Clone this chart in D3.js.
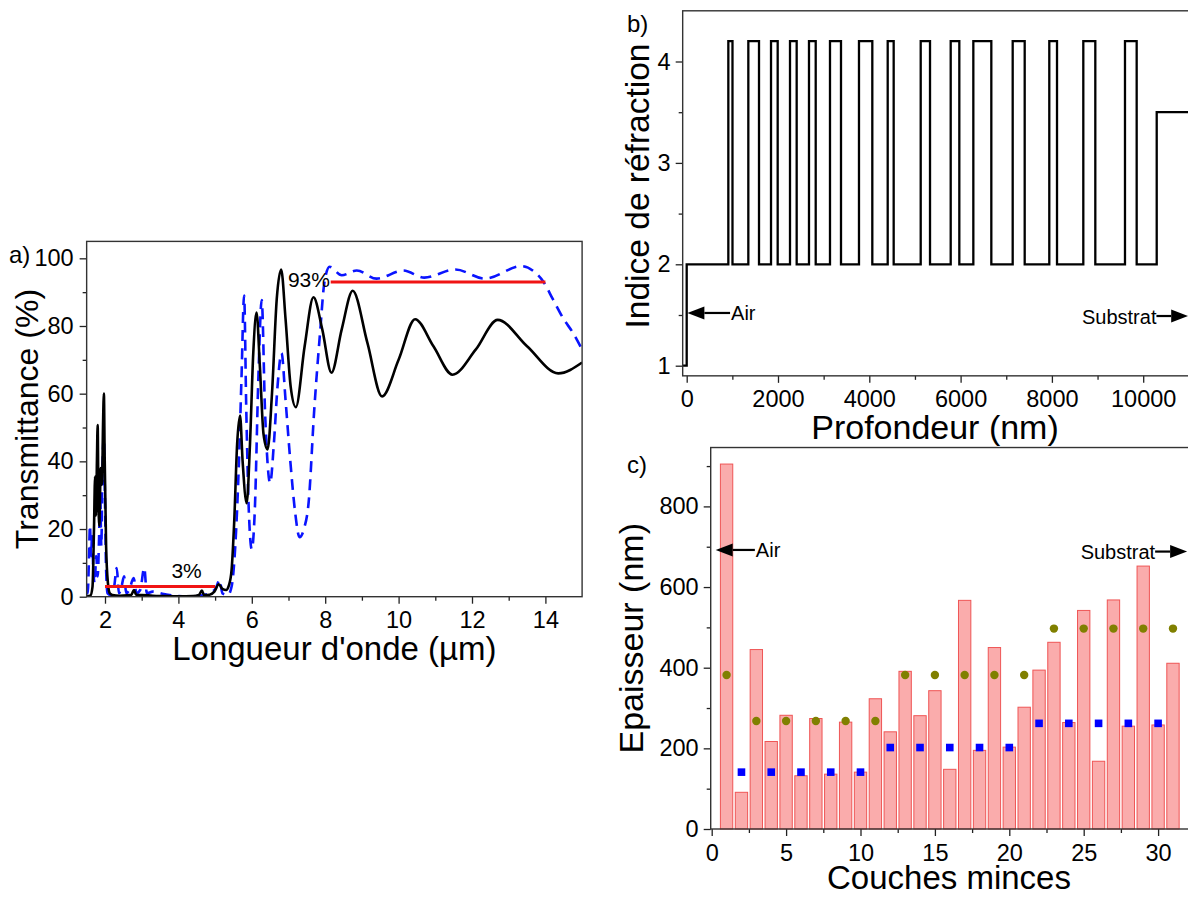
<!DOCTYPE html>
<html><head><meta charset="utf-8">
<script src="https://cdn.jsdelivr.net/npm/d3@7"></script>
<style>
body{margin:0;background:#fff;}
svg{display:block;font-family:"Liberation Sans",Arial,Helvetica,sans-serif;}
</style></head><body>
<svg id="chart" width="1188" height="897"></svg>
<script>
// ---------- Panel a data: transmittance spectra ----------
const blackLambda = [1.50,1.60,1.66,1.70,1.73,1.755,1.78,1.80,1.82,1.845,1.865,1.88,1.90,1.92,1.945,1.97,1.99,2.03,2.08,2.13,2.2,2.4,2.6,2.72,2.79,2.85,3.0,3.3,3.6,4.0,4.4,4.56,4.64,4.7,4.85,4.98,5.1,5.2,5.3,5.38,5.45,5.52,5.6,5.68,5.75,5.86,5.95,6.04,6.13,6.22,6.32,6.43,6.55,6.68,6.8,6.92,7.06,7.2,7.44,7.68,7.92,8.17,8.45,8.75,9.15,9.55,10.0,10.45,10.95,11.47,12.1,12.7,13.5,14.35,15.0];
const blackT      = [0.1,0.3,3,20,35.5,24,40,50.7,30,21,30,38,33,34,50,60,42,15,4,1,0.5,0.3,0.4,0.6,2,0.5,0.5,0.3,0.2,0.1,0.2,0.5,1.8,0.5,0.6,1.5,3.7,2.3,2.0,3.5,8,22,45,53.5,40,27.6,45,72,84,68,48,43.5,60,88,96.7,82,62,56,74,88.5,79,66.2,79,90.4,75,59.2,70,82,74,65.6,73,81.8,74,66,69.2];
const blueLambda  = [1.50,1.53,1.56,1.59,1.62,1.65,1.68,1.72,1.76,1.80,1.84,1.87,1.90,1.93,1.97,2.00,2.03,2.07,2.15,2.25,2.32,2.38,2.45,2.52,2.58,2.66,2.78,2.86,2.96,3.07,3.14,3.3,3.6,3.9,4.2,4.5,4.8,5.02,5.12,5.2,5.35,5.45,5.55,5.65,5.72,5.79,5.85,5.92,6.0,6.08,6.18,6.27,6.36,6.5,6.6,6.7,6.81,6.92,7.05,7.18,7.3,7.42,7.55,7.7,7.86,7.98,8.12,8.45,8.86,9.4,10.13,10.7,11.55,12.35,13.35,13.7,13.95,14.2,14.5,14.75,15.0];
const blueT       = [1,1,10,21,12,19,8,4,12,6,18,30,15,38,47,28,8,1,0.5,3,8.5,1,3,6,1,2,5.5,1,2,8.5,1,1.5,0.8,0.3,0.1,0.2,0.8,2.5,5,1,0.5,3,15,40,65,89,55,25,14,25,65,87.7,55,33.6,45,62,72,58,40,25,17.6,20,28,55,78,93,97.5,95,96.4,94,96.4,94.3,96.7,94,97.7,96,93,88,82,78,73];
const refStart  = [2, 8.15];
const refEnd    = [5, 14];
const refValue  = [3, 93];
const refLabels = ["3%", "93%"];
const refLabelLambda = [3.81, 8.13];
const refLabelT      = [5.5, 91.6];
const refLabelAnchor = ["start", "end"];
const aTicksX = [2,4,6,8,10,12,14], aMinorX = [3,5,7,9,11,13];
const aTicksY = [0,20,40,60,80,100], aMinorY = [10,30,50,70,90];

// ---------- Panel b data: refractive index profile ----------
const layerEdges = [0,912,1003,1350,1584,1847,1993,2263,2409,2679,2826,3139,3380,3774,4066,4403,4534,5126,5330,5783,5972,6279,6673,7141,7404,7943,8112,8688,8951,9601,9857,10296];
const nLow = 2, nHigh = 4.2, nAir = 1, nSub = 3.5;
const depthStart = -88, depthEnd = 11000;
const bTicksX = [0,2000,4000,6000,8000,10000], bMinorX = [1000,3000,5000,7000,9000,11000];
const bTicksY = [1,2,3,4], bMinorY = [1.5,2.5,3.5];

// ---------- Panel c data: layer thicknesses ----------
const layerNo   = d3.range(1, 32);
const thickness = [905,91,445,217,282,132,274,136,265,141,323,241,391,281,343,148,567,195,450,203,302,394,463,264,542,168,568,255,652,258,411];
const lowLayers   = [1,3,5,7,9,11,13,15,17,19,21,23,25,27,29,31];
const lowTarget   = [382,268,268,268,268,268,382,382,382,382,382,497,497,497,497,497];
const highLayers  = [2,4,6,8,10,12,14,16,18,20,22,24,26,28,30];
const highTarget  = [141,141,141,141,141,202,202,202,202,202,262,262,262,262,262];
const cTicksX = [0,5,10,15,20,25,30], cMinorX = [2.5,7.5,12.5,17.5,22.5,27.5];
const cTicksY = [0,200,400,600,800], cMinorY = [100,300,500,700,900];

const svg = d3.select("#chart");
const FS_TICK = 23.5;

function styleAxis(g){
  g.select(".domain").remove();
  g.attr("font-family", null).attr("font-size", FS_TICK).attr("color", "#000");
  g.selectAll(".tick line").attr("stroke-width", 1.3).attr("stroke", "#222");
}
function arrow(g, xTail, xTip, yy){
  const dir = xTip > xTail ? 1 : -1;
  const hl = 17, hh = 6.5;
  g.append("line").attr("x1", xTail).attr("x2", xTip - dir*hl).attr("y1", yy).attr("y2", yy)
    .attr("stroke", "#000").attr("stroke-width", 2.2);
  g.append("path").attr("d", `M${xTip},${yy} L${xTip - dir*hl},${yy-hh} L${xTip - dir*hl},${yy+hh} Z`).attr("fill", "#000");
}

// =================== Panel a ===================
{
  const x = d3.scaleLinear().domain([1.5, 15]).range([86.65, 582.1]);
  const y = d3.scaleLinear().domain([0, 105]).range([596.7, 241.4]);
  const g = svg.append("g");
  g.append("clipPath").attr("id", "clipA").append("rect")
    .attr("x", x(1.5)).attr("y", y(105)).attr("width", x(15)-x(1.5)).attr("height", y(0)-y(105));

  const xa = g.append("g").attr("transform", `translate(0,${y(0)})`)
    .call(d3.axisBottom(x).tickValues(aTicksX).tickSize(7).tickPadding(8).tickFormat(d3.format("d")));
  styleAxis(xa);
  const xm = g.append("g").attr("transform", `translate(0,${y(0)})`)
    .call(d3.axisBottom(x).tickValues(aMinorX).tickSize(4).tickFormat(""));
  styleAxis(xm);
  const ya = g.append("g").attr("transform", `translate(${x(1.5)},0)`)
    .call(d3.axisLeft(y).tickValues(aTicksY).tickSize(7).tickPadding(6));
  styleAxis(ya);
  const ym = g.append("g").attr("transform", `translate(${x(1.5)},0)`)
    .call(d3.axisLeft(y).tickValues(aMinorY).tickSize(4).tickFormat(""));
  styleAxis(ym);

  const plot = g.append("g").attr("clip-path", "url(#clipA)");
  const line = d3.line().x(d => x(d[0])).y(d => y(d[1])).curve(d3.curveMonotoneX);
  plot.append("path").datum(blueLambda.map((l, i) => [l, blueT[i]]))
    .attr("d", line).attr("fill", "none").attr("stroke", "#0a14ff").attr("stroke-width", 2.6)
    .attr("stroke-dasharray", "11,7");
  plot.append("path").datum(blackLambda.map((l, i) => [l, blackT[i]]))
    .attr("d", line).attr("fill", "none").attr("stroke", "#000").attr("stroke-width", 2.6)
    .attr("stroke-linejoin", "round");
  refStart.forEach((s, i) => {
    plot.append("line").attr("x1", x(s)).attr("x2", x(refEnd[i]))
      .attr("y1", y(refValue[i])).attr("y2", y(refValue[i]))
      .attr("stroke", "#f01414").attr("stroke-width", 3);
    g.append("text").attr("x", x(refLabelLambda[i])).attr("y", y(refLabelT[i]))
      .attr("text-anchor", refLabelAnchor[i]).attr("font-size", 21).text(refLabels[i]);
  });

  g.append("rect").attr("x", x(1.5)).attr("y", y(105)).attr("width", x(15)-x(1.5)).attr("height", y(0)-y(105))
    .attr("fill", "none").attr("stroke", "#333").attr("stroke-width", 1.4);

  g.append("text").attr("x", (x(1.5)+x(15))/2).attr("y", 660).attr("text-anchor", "middle")
    .attr("font-size", 33).text("Longueur d'onde (µm)");
  g.append("text").attr("transform", `translate(38,${(y(0)+y(105))/2}) rotate(-90)`)
    .attr("text-anchor", "middle").attr("font-size", 32).text("Transmittance (%)");
  g.append("text").attr("x", 9).attr("y", 263).attr("font-size", 24).text("a)");
}

// =================== Panel b ===================
{
  const x = d3.scaleLinear().domain([0, 10000]).range([686.7, 1143.2]);
  const y = d3.scaleLinear().domain([1, 2]).range([365.7, 264.3]);
  const g = svg.append("g");
  const yTop = y(4.5), yBot = y(0.9), xL = x(depthStart);

  const xa = g.append("g").attr("transform", `translate(0,${yBot})`)
    .call(d3.axisBottom(x).tickValues(bTicksX).tickSize(7).tickPadding(7).tickFormat(d3.format("d")));
  styleAxis(xa);
  const xm = g.append("g").attr("transform", `translate(0,${yBot})`)
    .call(d3.axisBottom(x).tickValues(bMinorX).tickSize(4).tickFormat(""));
  styleAxis(xm);
  const ya = g.append("g").attr("transform", `translate(${xL},0)`)
    .call(d3.axisLeft(y).tickValues(bTicksY).tickSize(7).tickPadding(5).tickFormat(d3.format("d")));
  styleAxis(ya);
  const ym = g.append("g").attr("transform", `translate(${xL},0)`)
    .call(d3.axisLeft(y).tickValues(bMinorY).tickSize(4).tickFormat(""));
  styleAxis(ym);

  // step profile
  const pts = [[depthStart, nAir]];
  layerEdges.forEach((e, i) => {
    if (i < layerEdges.length - 1) pts.push([e, (i % 2 === 0) ? nLow : nHigh]);
    else pts.push([e, nSub]);
  });
  pts.push([depthEnd, nSub]);
  const line = d3.line().x(d => x(d[0])).y(d => y(d[1])).curve(d3.curveStepAfter);
  g.append("path").datum(pts).attr("d", line).attr("fill", "none")
    .attr("stroke", "#000").attr("stroke-width", 2.3).attr("stroke-linejoin", "miter");

  g.append("rect").attr("x", xL).attr("y", yTop).attr("width", 1195 - xL).attr("height", yBot - yTop)
    .attr("fill", "none").attr("stroke", "#333").attr("stroke-width", 1.4);

  arrow(g, x(950), x(15), y(1.52));
  g.append("text").attr("x", x(950) + 1).attr("y", y(1.52) + 7.5).attr("font-size", 20).text("Air");
  arrow(g, x(10290), x(10985), y(1.49));
  g.append("text").attr("x", x(10290)).attr("y", y(1.49) + 7.5).attr("text-anchor", "end").attr("font-size", 20).text("Substrat");

  g.append("text").attr("x", 935).attr("y", 439).attr("text-anchor", "middle")
    .attr("font-size", 34).text("Profondeur (nm)");
  g.append("text").attr("transform", `translate(649,186) rotate(-90)`)
    .attr("text-anchor", "middle").attr("font-size", 33.5).text("Indice de réfraction");
  g.append("text").attr("x", 627).attr("y", 32).attr("font-size", 24).text("b)");
}

// =================== Panel c ===================
{
  const x = d3.scaleLinear().domain([0, 30]).range([711.7, 1158.1]);
  const y = d3.scaleLinear().domain([0, 800]).range([829, 506.4]);
  const g = svg.append("g");
  const yTop = y(946), yBot = y(0), xL = x(-0.067);

  const bw = x(0.83) - x(0);
  g.selectAll("rect.bar").data(layerNo).join("rect").attr("class", "bar")
    .attr("x", d => x(d) - bw/2).attr("width", bw)
    .attr("y", (d, i) => y(thickness[i])).attr("height", (d, i) => y(0) - y(thickness[i]))
    .attr("fill", "#faacac").attr("stroke", "#ef5555").attr("stroke-width", 1);

  g.selectAll("circle.low").data(lowLayers).join("circle").attr("class", "low")
    .attr("cx", d => x(d)).attr("cy", (d, i) => y(lowTarget[i])).attr("r", 4.2).attr("fill", "#808000");
  const s = 7.6;
  g.selectAll("rect.high").data(highLayers).join("rect").attr("class", "high")
    .attr("x", d => x(d) - s/2).attr("y", (d, i) => y(highTarget[i]) - s/2)
    .attr("width", s).attr("height", s).attr("fill", "#0000ff");

  const xa = g.append("g").attr("transform", `translate(0,${yBot})`)
    .call(d3.axisBottom(x).tickValues(cTicksX).tickSize(7).tickPadding(8).tickFormat(d3.format("d")));
  styleAxis(xa);
  const xm = g.append("g").attr("transform", `translate(0,${yBot})`)
    .call(d3.axisBottom(x).tickValues(cMinorX).tickSize(4).tickFormat(""));
  styleAxis(xm);
  const ya = g.append("g").attr("transform", `translate(${xL},0)`)
    .call(d3.axisLeft(y).tickValues(cTicksY).tickSize(7).tickPadding(5).tickFormat(d3.format("d")));
  styleAxis(ya);
  const ym = g.append("g").attr("transform", `translate(${xL},0)`)
    .call(d3.axisLeft(y).tickValues(cMinorY).tickSize(4).tickFormat(""));
  styleAxis(ym);

  g.append("rect").attr("x", xL).attr("y", yTop).attr("width", 1195 - xL).attr("height", yBot - yTop)
    .attr("fill", "none").attr("stroke", "#333").attr("stroke-width", 1.4);

  arrow(g, x(2.9), x(0.27), y(692));
  g.append("text").attr("x", x(2.9) + 1).attr("y", y(692) + 7.5).attr("font-size", 20).text("Air");
  arrow(g, x(29.8), x(31.95), y(688));
  g.append("text").attr("x", x(29.8)).attr("y", y(688) + 7.5).attr("text-anchor", "end").attr("font-size", 20).text("Substrat");

  g.append("text").attr("x", 949).attr("y", 889).attr("text-anchor", "middle")
    .attr("font-size", 33).text("Couches minces");
  g.append("text").attr("transform", `translate(643,${(yTop + yBot)/2}) rotate(-90)`)
    .attr("text-anchor", "middle").attr("font-size", 34).text("Epaisseur (nm)");
  g.append("text").attr("x", 627).attr("y", 473).attr("font-size", 24).text("c)");
}
</script>
</body></html>
